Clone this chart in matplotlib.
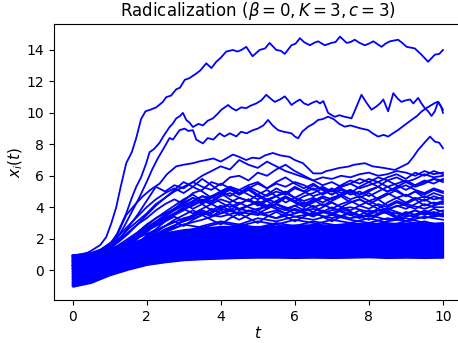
import numpy as np
import matplotlib
matplotlib.use('Agg')
import matplotlib.pyplot as plt

# sample times for the hand-read series
t_half = np.arange(0, 10.01, 0.5)
t_quarter = np.arange(0, 10.01, 0.25)

# dense core of the bundle (lower / upper edge, read every 0.5)
core_low = [-1.05, -0.8, -0.32, 0.04, 0.34, 0.51, 0.64, 0.7, 0.74, 0.78, 0.8,
            0.8, 0.78, 0.8, 0.78, 0.8, 0.82, 0.78, 0.8, 0.78, 0.8]
core_high = [1.0, 1.0, 1.3, 1.7, 2.1, 2.4, 2.6, 2.7, 2.8, 2.8, 2.8,
             2.8, 2.9, 2.9, 2.9, 3.0, 3.0, 3.0, 3.0, 3.0, 3.0]

# outlier trajectories, (t, x) pairs
traj_a = [(0, 0.9), (0.4, 1.1), (0.55, 1.3), (0.75, 1.6), (0.91, 2.1), (1.05, 3.0), (1.18, 4.0),
          (1.3, 5.3), (1.45, 6.8), (1.6, 7.5), (1.72, 8.4), (1.85, 9.6), (1.97, 10.1), (2.1, 10.2),
          (2.26, 10.35), (2.44, 10.7), (2.53, 11.0), (2.66, 11.1), (2.8, 11.5), (2.9, 11.6),
          (3.03, 12.1), (3.15, 12.2), (3.34, 12.5), (3.45, 12.7), (3.61, 13.15), (3.75, 12.85),
          (3.88, 13.25), (4.0, 13.5), (4.15, 13.9), (4.33, 14.0), (4.45, 13.9), (4.56, 14.0),
          (4.69, 14.2), (4.86, 13.6), (5.05, 14.0), (5.2, 14.1), (5.32, 14.45), (5.5, 14.0),
          (5.62, 13.95), (5.73, 13.75), (5.91, 14.3), (6.02, 14.4), (6.14, 14.75), (6.25, 14.5),
          (6.41, 14.3), (6.52, 14.45), (6.63, 14.55), (6.81, 14.3), (6.99, 14.45), (7.1, 14.5),
          (7.22, 14.85), (7.4, 14.45), (7.5, 14.5), (7.62, 14.65), (7.75, 14.45), (7.89, 14.3),
          (8.0, 14.4), (8.12, 14.55), (8.34, 14.2), (8.45, 14.4), (8.57, 14.55), (8.79, 14.65),
          (8.9, 14.45), (9.02, 14.2), (9.24, 14.1), (9.42, 13.7), (9.6, 13.25), (9.7, 13.5),
          (9.78, 13.7), (9.9, 13.75), (10.0, 14.0)]
traj_b = [(0, 0.7), (0.4, 0.9), (0.7, 1.2), (1.0, 1.6), (1.2, 2.3), (1.45, 3.6), (1.6, 4.6),
          (1.72, 5.3), (1.85, 5.9), (1.99, 6.8), (2.08, 7.5), (2.2, 7.7), (2.35, 8.1), (2.45, 8.5),
          (2.62, 9.1), (2.7, 9.3), (2.8, 9.65), (2.9, 9.8), (2.98, 10.0), (3.07, 9.55), (3.15, 9.4),
          (3.25, 9.1), (3.4, 9.3), (3.52, 9.2), (3.65, 9.5), (3.79, 9.65), (3.9, 9.9), (4.02, 10.2),
          (4.2, 10.5), (4.3, 10.3), (4.42, 10.15), (4.55, 10.35), (4.69, 10.3), (4.8, 10.45),
          (4.96, 10.6), (5.1, 10.8), (5.23, 11.15), (5.35, 10.9), (5.46, 10.7), (5.6, 10.85),
          (5.73, 11.05), (5.82, 10.8), (5.91, 10.5), (6.03, 10.7), (6.14, 10.85), (6.25, 10.6),
          (6.36, 10.5), (6.48, 10.65), (6.59, 10.75), (6.68, 10.6), (6.77, 10.75), (6.9, 10.0),
          (7.0, 9.85), (7.08, 9.75), (7.2, 9.85), (7.35, 9.75), (7.45, 9.7), (7.53, 9.65),
          (7.65, 10.3), (7.8, 11.15), (7.92, 10.7), (8.07, 10.2), (8.2, 10.4), (8.3, 10.6),
          (8.39, 10.85), (8.52, 10.1), (8.66, 11.25), (8.78, 10.9), (8.88, 10.7), (9.0, 10.8),
          (9.11, 10.85), (9.2, 10.6), (9.33, 10.95), (9.42, 10.6), (9.51, 10.3), (9.6, 10.1),
          (9.69, 9.8), (9.78, 10.1), (9.87, 10.7), (9.95, 10.4), (10.0, 10.0)]
traj_c = [(0, 0.5), (0.5, 0.8), (0.8, 1.1), (1.0, 1.4), (1.2, 2.0), (1.4, 2.8), (1.6, 3.7),
          (1.8, 4.6), (2.0, 5.6), (2.15, 6.4), (2.3, 7.1), (2.45, 7.7), (2.62, 8.4), (2.71, 8.3),
          (2.8, 8.6), (2.89, 8.9), (3.03, 9.0), (3.12, 8.85), (3.25, 8.9), (3.34, 8.3), (3.45, 8.15),
          (3.52, 8.06), (3.65, 8.4), (3.8, 8.3), (3.97, 8.7), (4.1, 8.5), (4.25, 8.7), (4.42, 8.5),
          (4.55, 8.8), (4.7, 8.7), (4.87, 8.9), (5.0, 9.0), (5.15, 9.2), (5.28, 9.55), (5.4, 9.2),
          (5.55, 8.9), (5.7, 8.8), (5.91, 8.7), (6.0, 8.5), (6.09, 8.38), (6.2, 8.8), (6.36, 9.12),
          (6.5, 9.3), (6.63, 9.55), (6.75, 9.6), (6.9, 9.76), (7.05, 9.6), (7.2, 9.3), (7.35, 9.12),
          (7.5, 9.2), (7.62, 9.12), (7.8, 9.0), (7.98, 8.91), (8.1, 8.7), (8.25, 8.49), (8.4, 8.6),
          (8.52, 8.49), (8.65, 8.7), (8.79, 8.91), (8.95, 9.2), (9.15, 9.55), (9.3, 9.8),
          (9.42, 10.08), (9.55, 10.3), (9.69, 10.5), (9.8, 10.65), (9.87, 10.71), (9.95, 10.4),
          (10.0, 10.2)]
traj_d = [(0, 0.3), (0.5, 0.6), (1.0, 1.3), (1.2, 2.2), (1.45, 3.5), (1.7, 4.2), (1.9, 4.7),
          (2.1, 5.1), (2.35, 5.5), (2.55, 6.1), (2.8, 6.6), (3.0, 6.7), (3.25, 6.8), (3.4, 6.9),
          (3.61, 7.0), (3.8, 7.1), (4.0, 6.9), (4.15, 7.1), (4.33, 7.35), (4.5, 7.2), (4.69, 7.0),
          (4.85, 7.15), (5.05, 7.1), (5.2, 7.3), (5.41, 7.45), (5.6, 7.3), (5.86, 7.2), (6.0, 7.0),
          (6.22, 6.8), (6.35, 6.5), (6.5, 6.15), (6.72, 6.15), (6.85, 6.3), (6.99, 6.37), (7.2, 6.5),
          (7.44, 6.58), (7.6, 6.7), (7.89, 6.8), (8.1, 6.6), (8.4, 6.5), (8.7, 6.37), (8.9, 6.6),
          (9.06, 6.79), (9.2, 7.2), (9.33, 7.64), (9.5, 8.1), (9.65, 8.49), (9.78, 8.17),
          (9.9, 8.1), (10.0, 7.75)]

# upper part of the bundle, read every 0.25
mid_1 = [0.8, 0.9, 1.0, 1.2, 1.5, 2.0, 2.6, 3.1, 3.6, 4.2, 4.6, 5.0, 5.3, 5.6, 6.0, 6.3, 6.6, 6.4, 7.0, 6.7, 6.5,
         6.9, 6.6, 6.3, 6.1, 5.9, 5.7, 5.9, 5.8, 6.0, 5.9, 6.1, 6.2, 6.0, 6.1, 6.3, 6.2, 6.0, 6.3, 6.1, 6.2]
mid_2 = [0.2, 0.4, 0.6, 0.8, 1.0, 1.3, 1.7, 2.1, 2.6, 3.0, 3.5, 3.9, 4.4, 4.9, 5.1, 5.6, 5.4, 5.9, 6.0, 5.7, 6.2,
         6.0, 6.4, 6.7, 6.3, 6.0, 5.7, 5.4, 5.6, 5.3, 5.5, 5.8, 5.6, 5.9, 5.7, 5.9, 5.6, 5.8, 6.1, 5.9, 6.0]
mid_3 = [-0.3, 0.0, 0.3, 0.6, 0.9, 1.2, 1.5, 2.0, 2.4, 2.9, 3.3, 3.6, 4.0, 4.3, 4.7, 4.6, 5.0, 5.3, 5.1, 5.4, 5.6,
         5.2, 5.5, 5.3, 5.6, 5.4, 5.1, 5.3, 5.0, 5.3, 5.5, 5.2, 5.4, 5.6, 5.3, 5.5, 5.7, 5.4, 5.6, 5.8, 5.6]
mid_4 = [0.6, 0.7, 0.8, 1.0, 1.3, 1.9, 2.7, 3.5, 4.4, 5.3, 5.0, 5.4, 5.2, 5.6, 5.3, 5.1, 5.5, 5.2, 4.9, 5.3, 5.0,
         4.7, 5.0, 4.8, 5.2, 5.0, 4.7, 4.9, 5.2, 4.9, 5.1, 4.8, 5.1, 5.3, 5.0, 5.2, 5.4, 5.1, 4.9, 5.2, 5.0]
mid_5 = [-0.6, -0.3, 0.0, 0.3, 0.6, 0.9, 1.3, 1.7, 2.2, 2.6, 3.1, 3.5, 3.8, 4.2, 4.5, 4.3, 4.7, 4.9, 4.6, 4.4, 4.8,
         4.5, 4.7, 4.9, 4.6, 4.4, 4.6, 4.3, 4.6, 4.8, 4.5, 4.7, 4.4, 4.6, 4.9, 4.6, 4.8, 4.5, 4.7, 4.5, 4.6]
mid_6 = [0.0, 0.2, 0.4, 0.6, 0.9, 1.2, 1.6, 2.0, 2.5, 2.9, 3.2, 3.6, 3.9, 4.1, 4.4, 4.2, 4.5, 4.3, 4.6, 4.4, 4.2,
         4.5, 4.3, 4.6, 4.4, 4.7, 4.9, 5.2, 5.0, 5.4, 5.7, 5.5, 5.8, 5.6, 5.9, 6.1, 5.8, 6.2, 6.0, 6.3, 6.1]
mid_7 = [-0.9, -0.6, -0.3, 0.0, 0.3, 0.6, 0.9, 1.3, 1.7, 2.1, 2.5, 2.8, 3.2, 3.5, 3.8, 3.6, 4.0, 4.2, 3.9, 4.1, 4.3,
         4.0, 4.2, 3.9, 4.1, 4.3, 4.0, 4.2, 3.9, 4.2, 4.4, 4.1, 3.9, 4.2, 4.0, 4.3, 4.1, 3.9, 4.2, 4.0, 4.0]
mid_8 = [0.4, 0.5, 0.7, 0.9, 1.2, 1.5, 1.9, 2.3, 2.8, 3.3, 3.7, 4.1, 4.5, 4.8, 4.4, 4.7, 4.3, 4.0, 4.3, 4.0, 3.8,
         4.1, 3.9, 3.6, 3.9, 3.7, 3.5, 3.8, 3.6, 3.9, 3.7, 3.5, 3.8, 3.6, 3.9, 3.7, 3.5, 3.8, 3.6, 3.9, 3.7]
mid_9 = [0.7, 0.8, 0.9, 1.1, 1.4, 1.8, 2.3, 2.9, 3.5, 4.1, 4.6, 5.1, 5.6, 5.3, 5.8, 5.4, 5.0, 5.3, 4.9, 5.2, 4.8,
         5.1, 4.7, 5.0, 4.6, 4.9, 5.2, 4.8, 5.1, 4.7, 5.0, 4.6, 4.9, 4.5, 4.8, 5.1, 4.7, 5.0, 4.6, 4.9, 4.7]
mid_10 = [-0.4, -0.1, 0.2, 0.5, 0.8, 1.2, 1.7, 2.2, 2.7, 3.1, 3.5, 3.9, 4.3, 4.6, 4.2, 4.6, 4.9, 5.2, 4.8, 5.1, 4.7,
          4.4, 4.7, 4.3, 4.6, 4.2, 4.5, 4.1, 4.4, 4.7, 4.3, 4.5, 4.2, 4.5, 4.1, 4.4, 4.2, 4.5, 4.1, 4.3, 4.2]
mid_11 = [0.5, 0.6, 0.8, 1.0, 1.3, 1.6, 2.0, 2.4, 2.9, 3.3, 3.6, 3.9, 4.2, 3.9, 4.2, 3.8, 4.1, 3.8, 4.2, 4.5, 4.2,
          3.9, 4.2, 4.6, 4.3, 4.0, 4.3, 4.6, 4.3, 4.0, 4.3, 4.5, 4.2, 3.9, 4.3, 4.6, 4.3, 4.6, 4.4, 4.7, 4.5]
mid_12 = [-0.8, -0.5, -0.2, 0.1, 0.4, 0.8, 1.2, 1.6, 2.0, 2.4, 2.8, 3.2, 3.5, 3.8, 3.5, 3.9, 3.6, 3.9, 3.5, 3.8, 3.6,
          3.9, 4.2, 3.9, 3.6, 3.9, 3.7, 4.0, 4.3, 4.0, 3.8, 4.1, 4.4, 4.1, 3.8, 4.1, 3.9, 4.2, 4.5, 4.2, 4.4]
mid_13 = [0.95, 1.0, 1.1, 1.3, 1.7, 2.2, 2.8, 3.4, 4.0, 4.5, 4.9, 5.2, 4.9, 5.3, 5.0, 4.6, 4.9, 4.5, 4.2, 4.5, 4.1,
          4.4, 4.0, 3.8, 4.1, 3.8, 4.1, 3.7, 4.0, 3.7, 3.5, 3.8, 3.5, 3.8, 3.6, 3.3, 3.6, 3.8, 3.5, 3.7, 3.5]
mid_14 = [0.3, 0.5, 0.7, 0.9, 1.1, 1.4, 1.8, 2.2, 2.6, 3.0, 3.3, 3.6, 3.9, 3.6, 3.9, 4.2, 3.9, 4.2, 3.8, 4.1, 4.4,
          4.1, 4.4, 4.7, 4.4, 4.1, 4.4, 4.7, 4.5, 4.8, 5.1, 4.8, 5.0, 5.3, 5.0, 5.3, 5.6, 5.3, 5.5, 5.8, 5.7]
mid_15 = [-0.1, 0.1, 0.4, 0.7, 1.0, 1.3, 1.7, 2.1, 2.5, 2.8, 3.1, 3.4, 3.1, 3.4, 3.7, 3.4, 3.8, 3.5, 3.2, 3.5, 3.8,
          3.5, 3.3, 3.6, 3.9, 3.6, 3.4, 3.7, 3.5, 3.8, 3.5, 3.3, 3.6, 3.9, 3.6, 3.4, 3.7, 3.5, 3.8, 3.6, 3.8]
mid_16 = [0.1, 0.3, 0.5, 0.8, 1.1, 1.4, 1.8, 2.2, 2.6, 3.0, 3.4, 3.8, 4.1, 4.4, 4.7, 4.4, 4.8, 5.1, 4.8, 5.2, 5.5,
          5.2, 5.6, 5.9, 5.5, 5.2, 5.5, 5.1, 4.8, 5.1, 4.8, 5.0, 4.7, 5.0, 5.3, 5.0, 4.7, 5.0, 4.8, 5.1, 4.9]
mid_17 = [0.85, 0.9, 1.0, 1.2, 1.5, 1.9, 2.4, 2.9, 3.3, 3.8, 4.2, 4.5, 4.2, 4.6, 4.3, 4.7, 5.0, 4.7, 5.1, 4.8, 4.5,
          4.8, 5.2, 4.9, 5.3, 5.0, 5.4, 5.1, 4.8, 5.2, 4.9, 5.3, 5.6, 5.3, 5.7, 5.4, 5.1, 5.4, 5.7, 5.5, 5.8]
mid_18 = [-0.7, -0.4, -0.1, 0.2, 0.5, 0.9, 1.3, 1.7, 2.1, 2.5, 2.8, 3.1, 2.8, 3.2, 3.5, 3.2, 2.9, 3.3, 3.6, 3.3, 3.0,
          3.4, 3.7, 3.4, 3.1, 3.4, 3.7, 3.4, 3.1, 3.4, 3.7, 3.4, 3.2, 3.5, 3.8, 3.4, 3.1, 3.4, 3.7, 3.4, 3.5]

# lines at the top edge of the dense core, read every 0.5
low_1 = [0.9, 1.0, 1.3, 1.8, 2.3, 2.8, 3.3, 3.6, 3.4, 3.7, 3.5, 3.8, 3.4, 3.6, 3.3, 3.6, 3.4, 3.7, 3.5, 3.3, 3.6]
low_2 = [-0.5, -0.1, 0.4, 0.9, 1.4, 1.9, 2.4, 2.8, 3.1, 2.9, 3.3, 3.1, 3.4, 3.2, 3.5, 3.2, 3.0, 3.3, 3.1, 3.4, 3.2]
low_3 = [0.1, 0.4, 0.8, 1.3, 1.9, 2.4, 2.9, 3.2, 3.6, 3.9, 3.6, 3.3, 3.6, 3.9, 3.6, 3.3, 3.5, 3.2, 3.4, 3.7, 3.4]
low_4 = [-1.0, -0.6, -0.1, 0.4, 0.9, 1.4, 1.8, 2.2, 2.6, 2.9, 2.7, 3.0, 2.8, 3.1, 2.9, 2.7, 3.0, 2.8, 3.1, 2.9, 3.0]
low_5 = [0.6, 0.8, 1.1, 1.5, 2.0, 2.5, 2.9, 2.7, 3.0, 2.8, 3.1, 2.9, 2.6, 2.9, 3.2, 3.0, 2.8, 3.1, 3.3, 3.0, 2.9]
low_6 = [-0.2, 0.1, 0.5, 1.0, 1.5, 2.0, 2.4, 2.7, 2.5, 2.8, 2.6, 2.9, 3.2, 3.0, 2.7, 3.0, 3.3, 3.0, 2.8, 3.1, 2.8]
low_7 = [0.3, 0.5, 0.9, 1.4, 2.0, 2.6, 3.1, 3.5, 3.9, 3.6, 3.9, 4.2, 3.8, 3.5, 3.8, 4.0, 3.7, 3.9, 4.2, 3.9, 4.3]


def plot_radicalization():
    fig = plt.figure(figsize=(4.58, 3.43), dpi=100)
    ax = fig.add_axes([0.1179, 0.1254, 0.8897, 0.8032])
    lw = 1.3
    ax.fill_between(t_half, core_low, core_high, color='blue', lw=1.0)
    for ys in [low_1, low_2, low_3, low_4, low_5, low_6, low_7]:
        ax.plot(t_half, ys, color='blue', lw=lw)
    mids = [mid_1, mid_2, mid_3, mid_4, mid_5, mid_6, mid_7, mid_8, mid_9,
            mid_10, mid_11, mid_12, mid_13, mid_14, mid_15, mid_16, mid_17, mid_18]
    for ys in mids:
        ax.plot(t_quarter, ys, color='blue', lw=lw)
    for tr in [traj_a, traj_b, traj_c, traj_d]:
        tt, xx = zip(*tr)
        ax.plot(tt, xx, color='blue', lw=lw)
    ax.set_xlim(-0.5, 10.5)
    ax.set_ylim(-1.9, 15.62)
    ax.set_xticks(range(0, 11, 2))
    ax.set_yticks(range(0, 15, 2))
    ax.tick_params(labelsize=10)
    ax.set_xlabel('$t$', fontsize=11, labelpad=1)
    ax.set_ylabel('$x_i(t)$', fontsize=11, labelpad=1)
    ax.set_title(r'Radicalization ($\beta = 0, K = 3, c = 3$)', fontsize=12)
    fig.savefig('out.png', dpi=100)


if __name__ == '__main__':
    plot_radicalization()
